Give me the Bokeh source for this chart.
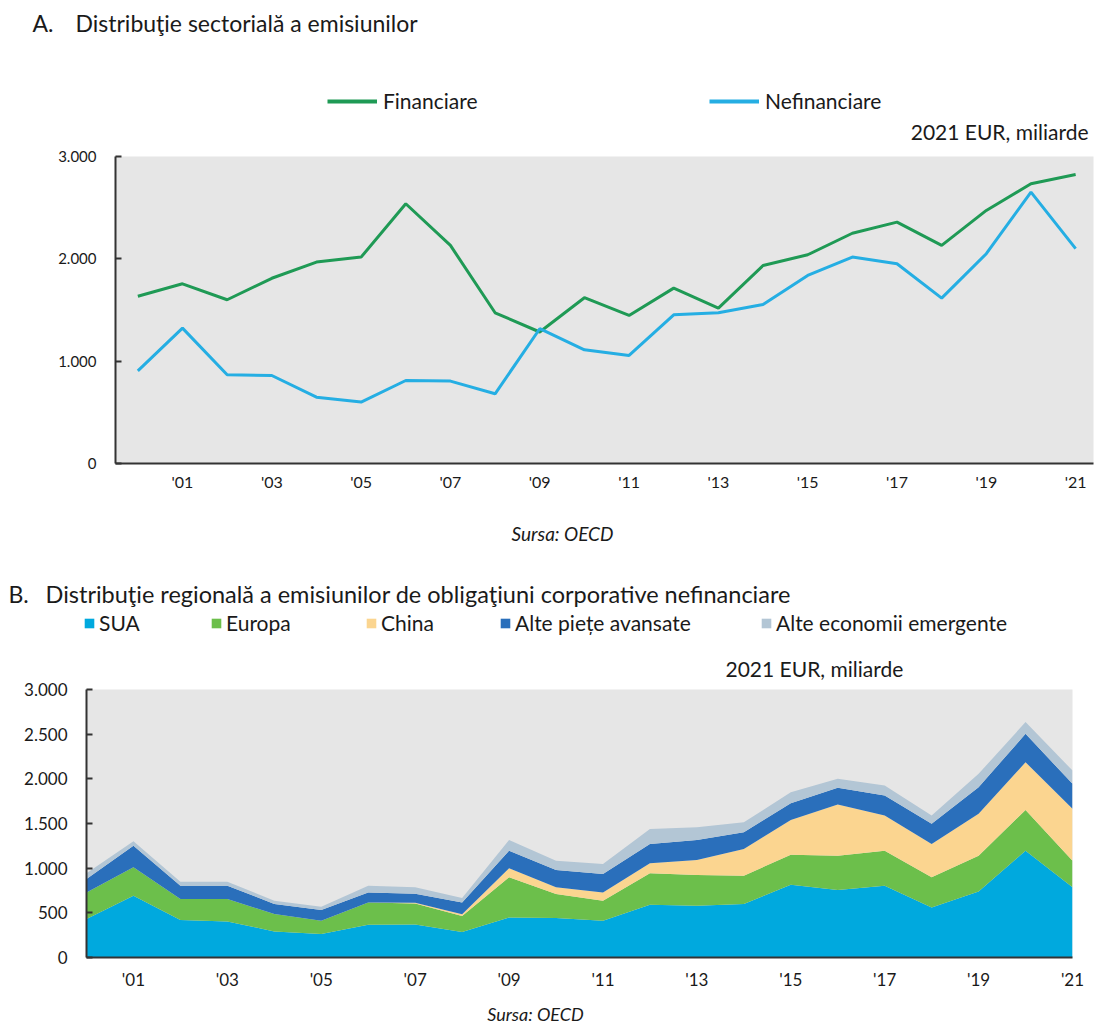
from bokeh.plotting import figure
from bokeh.models import (Label, Legend, LegendItem, FixedTicker, Range1d, ColumnDataSource)
from bokeh.embed import file_html
from bokeh.resources import INLINE

FONT = "Lato"

# ---------------- data ----------------
years = list(range(2000, 2022))
financiare = [1635, 1756, 1600, 1810, 1968, 2017, 2538, 2131, 1473, 1285, 1620,
              1447, 1714, 1518, 1935, 2040, 2250, 2359, 2131, 2473, 2734, 2825]
nefinanciare = [905, 1323, 867, 860, 648, 600, 811, 805, 681, 1317, 1111,
                1056, 1453, 1473, 1554, 1838, 2017, 1952, 1616, 2050, 2652, 2100]

sua = [430, 692, 419, 404, 292, 262, 367, 370, 285, 449, 442,
       411, 591, 580, 599, 815, 755, 804, 561, 740, 1196, 785]
europa = [299, 317, 236, 251, 195, 149, 250, 235, 180, 448, 269,
          225, 351, 344, 317, 336, 385, 392, 336, 400, 456, 299]
china = [0, 0, 0, 0, 0, 0, 0, 8, 20, 101, 74,
         93, 112, 168, 299, 389, 572, 393, 374, 468, 534, 580]
alte_avansate = [150, 243, 149, 149, 112, 120, 112, 100, 130, 198, 195,
                 206, 217, 224, 186, 186, 187, 224, 225, 298, 318, 280]
alte_emergente = [63, 48, 44, 44, 37, 37, 75, 74, 50, 120, 104,
                  112, 168, 141, 112, 124, 101, 112, 93, 150, 131, 149]

odd_years = list(range(2001, 2022, 2))
x_tick_labels = ["'01", "'03", "'05", "'07", "'09", "'11", "'13", "'15", "'17", "'19", "'21"]
a_y_ticks = [0, 1000, 2000, 3000]
a_y_labels = ["0", "1.000", "2.000", "3.000"]
b_y_ticks = [0, 500, 1000, 1500, 2000, 2500, 3000]
b_y_labels = ["0", "500", "1.000", "1.500", "2.000", "2.500", "3.000"]

line_names = ["Financiare", "Nefinanciare"]
line_series = [financiare, nefinanciare]
line_colors = ["#1f9a55", "#25aee3"]
series_names = ["SUA", "Europa", "China", "Alte piețe avansate", "Alte economii emergente"]
series_values = [sua, europa, china, alte_avansate, alte_emergente]
series_colors = ["#00a9de", "#6cbf4b", "#fbd590", "#2a6fbb", "#b3c6d5"]

PLOT_BG = "#e6e6e6"
AXIS_COLOR = "#333333"
TEXT_COLOR = "#1a1a1a"
W = 1095


def text_fig(h):
    # a frameless strip whose data units equal pixels (y grows downwards)
    f = figure(frame_width=W, frame_height=h, min_border=0,
               x_range=Range1d(0, W), y_range=Range1d(h, 0),
               x_axis_type=None, y_axis_type=None,
               output_backend="svg", toolbar_location=None)
    f.grid.visible = False
    f.outline_line_color = None
    f.background_fill_color = "white"
    f.border_fill_color = "white"
    return f


def add_label(p, text, x, y, size, align="left", style="normal"):
    p.add_layout(Label(x=x, y=y, text=text, text_font=FONT, text_font_size=size,
                       text_align=align, text_baseline="middle", text_font_style=style,
                       text_color=TEXT_COLOR))


def add_legend(p, rend, name, x, center, h, gw, gh, size, standoff, row_h=22):
    # Legend location is (left, bottom) measured from the frame's bottom-left corner
    bottom = center + row_h / 2
    lg = Legend(items=[LegendItem(label=name, renderers=[rend])], location=(x, h - bottom),
                orientation="horizontal", glyph_width=gw, glyph_height=gh, label_height=gh,
                label_standoff=standoff, padding=0, margin=0, background_fill_alpha=0,
                border_line_alpha=0, label_text_font=FONT, label_text_font_size=size,
                label_text_color=TEXT_COLOR)
    p.add_layout(lg)


def style_axes(p, ylabels, yticks, ylab_standoff, xlab_standoff, ysize, xsize):
    p.xaxis.ticker = FixedTicker(ticks=odd_years)
    p.xaxis.major_label_overrides = {y: l for y, l in zip(odd_years, x_tick_labels)}
    p.yaxis.ticker = FixedTicker(ticks=yticks)
    p.yaxis.major_label_overrides = {t: l for t, l in zip(yticks, ylabels)}
    for ax in (p.xaxis[0], p.yaxis[0]):
        ax.axis_line_color = AXIS_COLOR
        ax.axis_line_width = 2
        ax.minor_tick_line_color = None
        ax.minor_tick_in = 0
        ax.minor_tick_out = 0
        ax.major_label_text_font = FONT
        ax.major_label_text_color = TEXT_COLOR
    p.xaxis.major_label_text_font_size = xsize
    p.yaxis.major_label_text_font_size = ysize
    p.xaxis.major_tick_line_color = None
    p.xaxis.major_tick_in = 0
    p.xaxis.major_tick_out = 0
    p.xaxis.major_label_standoff = xlab_standoff
    p.yaxis.major_tick_in = 6
    p.yaxis.major_tick_out = 0
    p.yaxis.major_tick_line_color = AXIS_COLOR
    p.yaxis.major_tick_line_width = 2
    p.yaxis.major_label_standoff = ylab_standoff
    p.xgrid.grid_line_color = None
    p.ygrid.grid_line_color = None
    p.outline_line_color = None
    p.background_fill_color = PLOT_BG
    p.border_fill_color = "white"


# ---------------- header A ----------------
H1 = 148
head_a = text_fig(H1)
add_label(head_a, "A.", 32, 22, "23px")
add_label(head_a, "Distribuţie sectorială a emisiunilor", 75, 22, "23px")
add_label(head_a, "2021 EUR, miliarde", 1088, 131, "21px", align="right")
for name, vals, col, xpos in zip(line_names, line_series, line_colors, [327, 709]):
    # legend key renderer: real series, lying outside this strip's visible range
    key = head_a.line(x=years, y=vals, line_color=col, line_width=4)
    add_legend(head_a, key, name, xpos, 102, H1, 50, 20, "21px", 6)

# ---------------- chart A ----------------
pa = figure(frame_width=978, frame_height=307, min_border_left=115, min_border_top=8,
            min_border_bottom=37, min_border_right=2,
            x_range=Range1d(1999.5, 2021.4), y_range=Range1d(0, 3000),
            output_backend="svg", toolbar_location=None)
style_axes(pa, a_y_labels, a_y_ticks, 19, 8, "15px", "16px")
for vals, col in zip(line_series, line_colors):
    pa.line(years, vals, line_color=col, line_width=3)

# ---------------- middle text block ----------------
H3 = 180
mid = text_fig(H3)
add_label(mid, "Sursa: OECD", 562, 33, "19px", align="center", style="italic")
add_label(mid, "B.", 8, 93, "23px")
add_label(mid, "Distribuţie regională a emisiunilor de obligaţiuni corporative nefinanciare",
          45, 93, "23.5px")
add_label(mid, "2021 EUR, miliarde", 725, 168, "21px")
for name, vals, col, xpos in zip(series_names, series_values, series_colors,
                                 [83, 210, 365, 499, 760]):
    key = mid.varea(x=years, y1=vals, y2=sua, fill_color=col)
    add_legend(mid, key, name, xpos, 124, H3, 12, 12, "21px", 4)

# ---------------- chart B ----------------
pb = figure(frame_width=986, frame_height=268, min_border_left=86, min_border_top=9,
            min_border_bottom=36, min_border_right=23,
            x_range=Range1d(2000, 2021), y_range=Range1d(0, 3000),
            output_backend="svg", toolbar_location=None)
style_axes(pb, b_y_labels, b_y_ticks, 19, 11, "17px", "17px")
src = ColumnDataSource(dict(year=years, s0=sua, s1=europa, s2=china, s3=alte_avansate,
                            s4=alte_emergente))
pb.varea_stack(["s0", "s1", "s2", "s3", "s4"], x="year", color=series_colors, source=src)

# ---------------- footer ----------------
H5 = 33
foot = text_fig(H5)
add_label(foot, "Sursa: OECD", 535, 20, "18px", align="center", style="italic")

open("out.html", "w").write(file_html([head_a, pa, mid, pb, foot], INLINE))
